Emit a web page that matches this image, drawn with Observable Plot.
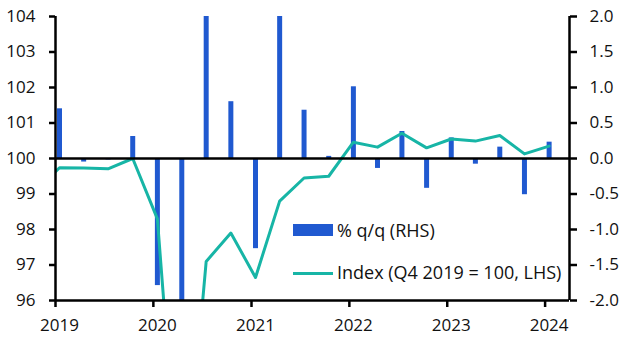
<!DOCTYPE html>
<html>
<head>
<meta charset="utf-8">
<script src="https://cdn.jsdelivr.net/npm/d3@7"></script>
<script src="https://cdn.jsdelivr.net/npm/@observablehq/plot@0.6"></script>
<style>
  html, body { margin: 0; padding: 0; background: #fff; }
  #wrap { position: relative; width: 629px; height: 344px; font-family: "Open Sans", sans-serif; }
  .lg { position: absolute; font-size: 18px; line-height: 18px; color: #111; white-space: nowrap; }
  .sw { position: absolute; }
</style>
</head>
<body>
<div id="wrap"></div>
<script>
// Quarter labels (2018Q4 is only partly visible at the left edge)
const quarters = ["2018Q4",
  "2019Q1","2019Q2","2019Q3","2019Q4",
  "2020Q1","2020Q2","2020Q3","2020Q4",
  "2021Q1","2021Q2","2021Q3","2021Q4",
  "2022Q1","2022Q2","2022Q3","2022Q4",
  "2023Q1","2023Q2","2023Q3","2023Q4",
  "2024Q1"];
// Index (Q4 2019 = 100, LHS)
const indexValues = [99.05,
  99.74, 99.73, 99.71, 100.0,
  98.3, 89.4, 97.1, 97.9,
  96.65, 98.8, 99.45, 99.5,
  100.46, 100.32, 100.71, 100.30,
  100.55, 100.49, 100.65, 100.13,
  100.35];
// % q/q (RHS)
const qoqValues = [null,
  0.70, -0.05, -0.02, 0.31,
  -1.79, -9.0, 8.6, 0.80,
  -1.27, 2.2, 0.68, 0.03,
  1.01, -0.14, 0.38, -0.42,
  0.29, -0.08, 0.16, -0.51,
  0.23];
const leftTicks = [96, 97, 98, 99, 100, 101, 102, 103, 104];
const tickYears = [2019, 2020, 2021, 2022, 2023, 2024];
const seriesNames = ["% q/q (RHS)", "Index (Q4 2019 = 100, LHS)"];

const BLUE = "#2059d0";
const TEAL = "#17b5a6";
const INK = "#111";

function qDate(q) {
  const y = +q.slice(0, 4), n = +q.slice(5);
  return new Date(Date.UTC(y, (n - 1) * 3, 16));
}
const rows = quarters.map((q, i) => ({date: qDate(q), idx: indexValues[i], qoq: qoqValues[i]}));
const barRows = rows.filter(d => d.qoq != null);
// RHS -> LHS mapping: 0 -> 100, 2.0 -> 104
const toLeft = v => 100 + 2 * v;
const x0 = new Date(Date.UTC(2019, 0, 1));
const x1 = new Date(Date.UTC(2024, 3, 1));
const yearDates = tickYears.map(y => new Date(Date.UTC(y, 0, 1)));

const chart = Plot.plot({
  width: 629,
  height: 344,
  marginLeft: 55,
  marginRight: 60,
  marginTop: 16,
  marginBottom: 44,
  style: {fontFamily: "Open Sans, sans-serif", fontSize: "17px", color: INK, background: "#fff", overflow: "visible"},
  x: {type: "utc", domain: [x0, x1], label: null},
  y: {domain: [96, 104], label: null},
  marks: [
    Plot.ruleX(barRows, {x: "date", y1: 100, y2: d => toLeft(d.qoq), stroke: BLUE, strokeWidth: 5, clip: true}),
    Plot.line(rows, {x: "date", y: "idx", stroke: TEAL, strokeWidth: 3, clip: true}),
    Plot.ruleY([96, 100], {stroke: "#000", strokeWidth: 2.5}),
    Plot.ruleX([x0, x1], {stroke: "#000", strokeWidth: 2.5}),
    Plot.axisY({anchor: "left", ticks: leftTicks, tickSize: 6, tickPadding: 14, strokeWidth: 2.5, stroke: "#000", fill: INK, label: null}),
    Plot.axisY({anchor: "right", ticks: leftTicks, tickFormat: d => ((d - 100) / 2).toFixed(1), tickSize: 7, tickPadding: 13, strokeWidth: 2.5, stroke: "#000", fill: INK, label: null}),
    Plot.axisX({ticks: yearDates, tickSize: 7, strokeWidth: 2.5, stroke: "#000", text: null, label: null}),
    Plot.axisX({ticks: yearDates, tickSize: 0, tickPadding: 18, dx: 4, tickFormat: d => String(d.getUTCFullYear()), fill: INK, label: null})
  ]
});

const wrap = document.getElementById("wrap");
wrap.appendChild(chart);

// Legend overlay inside the plot area
function addLegend() {
  const sw1 = document.createElement("div");
  sw1.className = "sw";
  Object.assign(sw1.style, {left: "293px", top: "224px", width: "40px", height: "12px", background: BLUE});
  const t1 = document.createElement("div");
  t1.className = "lg";
  Object.assign(t1.style, {left: "337px", top: "221px"});
  t1.textContent = seriesNames[0];
  const sw2 = document.createElement("div");
  sw2.className = "sw";
  Object.assign(sw2.style, {left: "293px", top: "272px", width: "40px", height: "3px", background: TEAL});
  const t2 = document.createElement("div");
  t2.className = "lg";
  Object.assign(t2.style, {left: "337px", top: "263px"});
  t2.textContent = seriesNames[1];
  [sw1, t1, sw2, t2].forEach(e => wrap.appendChild(e));
}
addLegend();
</script>
</body>
</html>
